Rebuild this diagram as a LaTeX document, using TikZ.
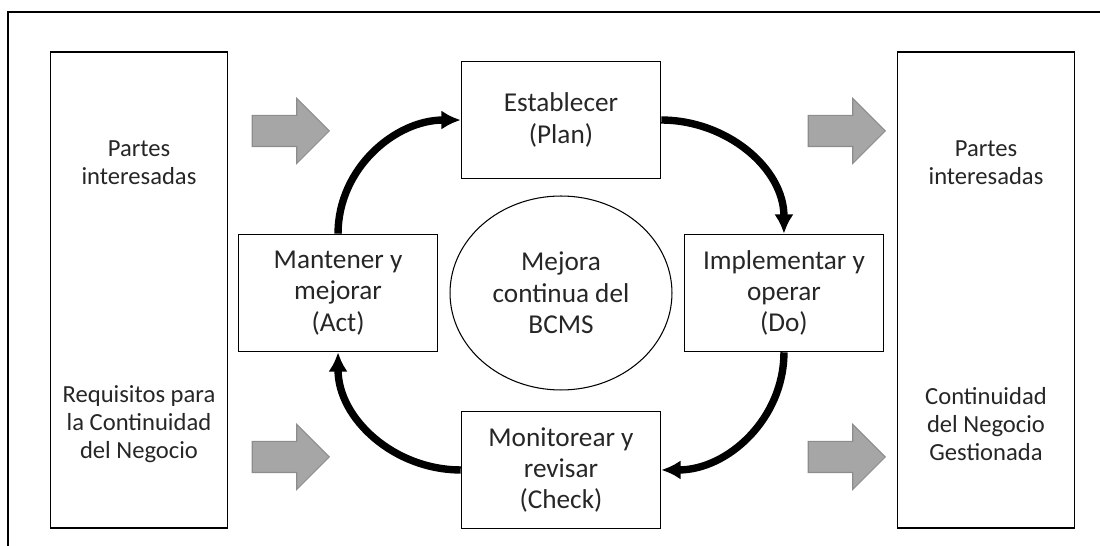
\documentclass[tikz,border=0pt]{standalone}
\usepackage{fontspec}
\setmainfont{Carlito}
\usetikzlibrary{shapes.geometric,shapes.arrows,arrows.meta}

\definecolor{arrowgray}{HTML}{A6A6A6}
\definecolor{arrowedge}{HTML}{8C8C8C}

\tikzset{
	phase/.style={rectangle,draw,line width=0.9pt,minimum width=3.98cm,minimum height=2.34cm,align=center,font=\fontsize{15.5}{17.8}\selectfont,text=black!85},
	hub/.style={ellipse,draw,line width=0.6pt,minimum width=4.44cm,minimum height=3.88cm,align=center,font=\fontsize{15.5}{17.8}\selectfont,text=black!85},
	side/.style={rectangle,draw,line width=0.9pt,minimum width=3.54cm,minimum height=9.52cm},
	sidetext/.style={align=center,font=\fontsize{14}{15.9}\selectfont,text=black!85},
	grayarrow/.style={single arrow,draw=arrowedge,fill=arrowgray,line width=0.6pt,minimum height=1.54cm,inner xsep=0pt,inner ysep=0.3cm,single arrow head extend=0.34cm},
	pdcaflow/.style={line width=4.2pt,-{Latex[length=11pt,width=11pt]}}
}

\begin{document}
\begin{tikzpicture}[x=0.02cm,y=-0.02cm]
	\useasboundingbox (0,0) rectangle (1100,546);
	% Frame
	\draw [line width=1pt] (8,546) -- (8,12) -- (1100,12);

	% Place nodes
	\node [hub] (core) at (561,293) {Mejora\\continua del\\BCMS};
	\node [phase,above of=core,node distance=3.46cm] (plan) {Establecer\\(Plan)};
	\node [phase,right of=core,node distance=4.46cm] (do) {Implementar y\\operar\\(Do)};
	\node [phase,below of=core,node distance=3.54cm] (check) {Monitorear y\\revisar\\(Check)};
	\node [phase,left of=core,node distance=4.46cm] (act) {Mantener y\\mejorar\\(Act)};

	\node [side] (inputs) at (139,290) {};
	\node [side] (outputs) at (986,290) {};
	\node [sidetext] (in1) at (139,163) {Partes\\interesadas};
	\node [sidetext] (in2) at (139,424) {Requisitos para\\la Continuidad\\del Negocio};
	\node [sidetext] (out1) at (986,163) {Partes\\interesadas};
	\node [sidetext] (out2) at (986,424) {Continuidad\\del Negocio\\Gestionada};

	\node [grayarrow] (arrin1) at (283,131) {};
	\node [grayarrow] (arrin2) at (283,457) {};
	\node [grayarrow] (arrout1) at (839,131) {};
	\node [grayarrow] (arrout2) at (839,457) {};

	% PDCA cycle
	\draw [pdcaflow] (plan.east) to[out=0,in=90] (do.north);
	\draw [pdcaflow] (do.south) to[out=-90,in=0] (check.east);
	\draw [pdcaflow] (check.west) to[out=180,in=-90] (act.south);
	\draw [pdcaflow] (act.north) to[out=90,in=180] (plan.west);
\end{tikzpicture}
\end{document}
